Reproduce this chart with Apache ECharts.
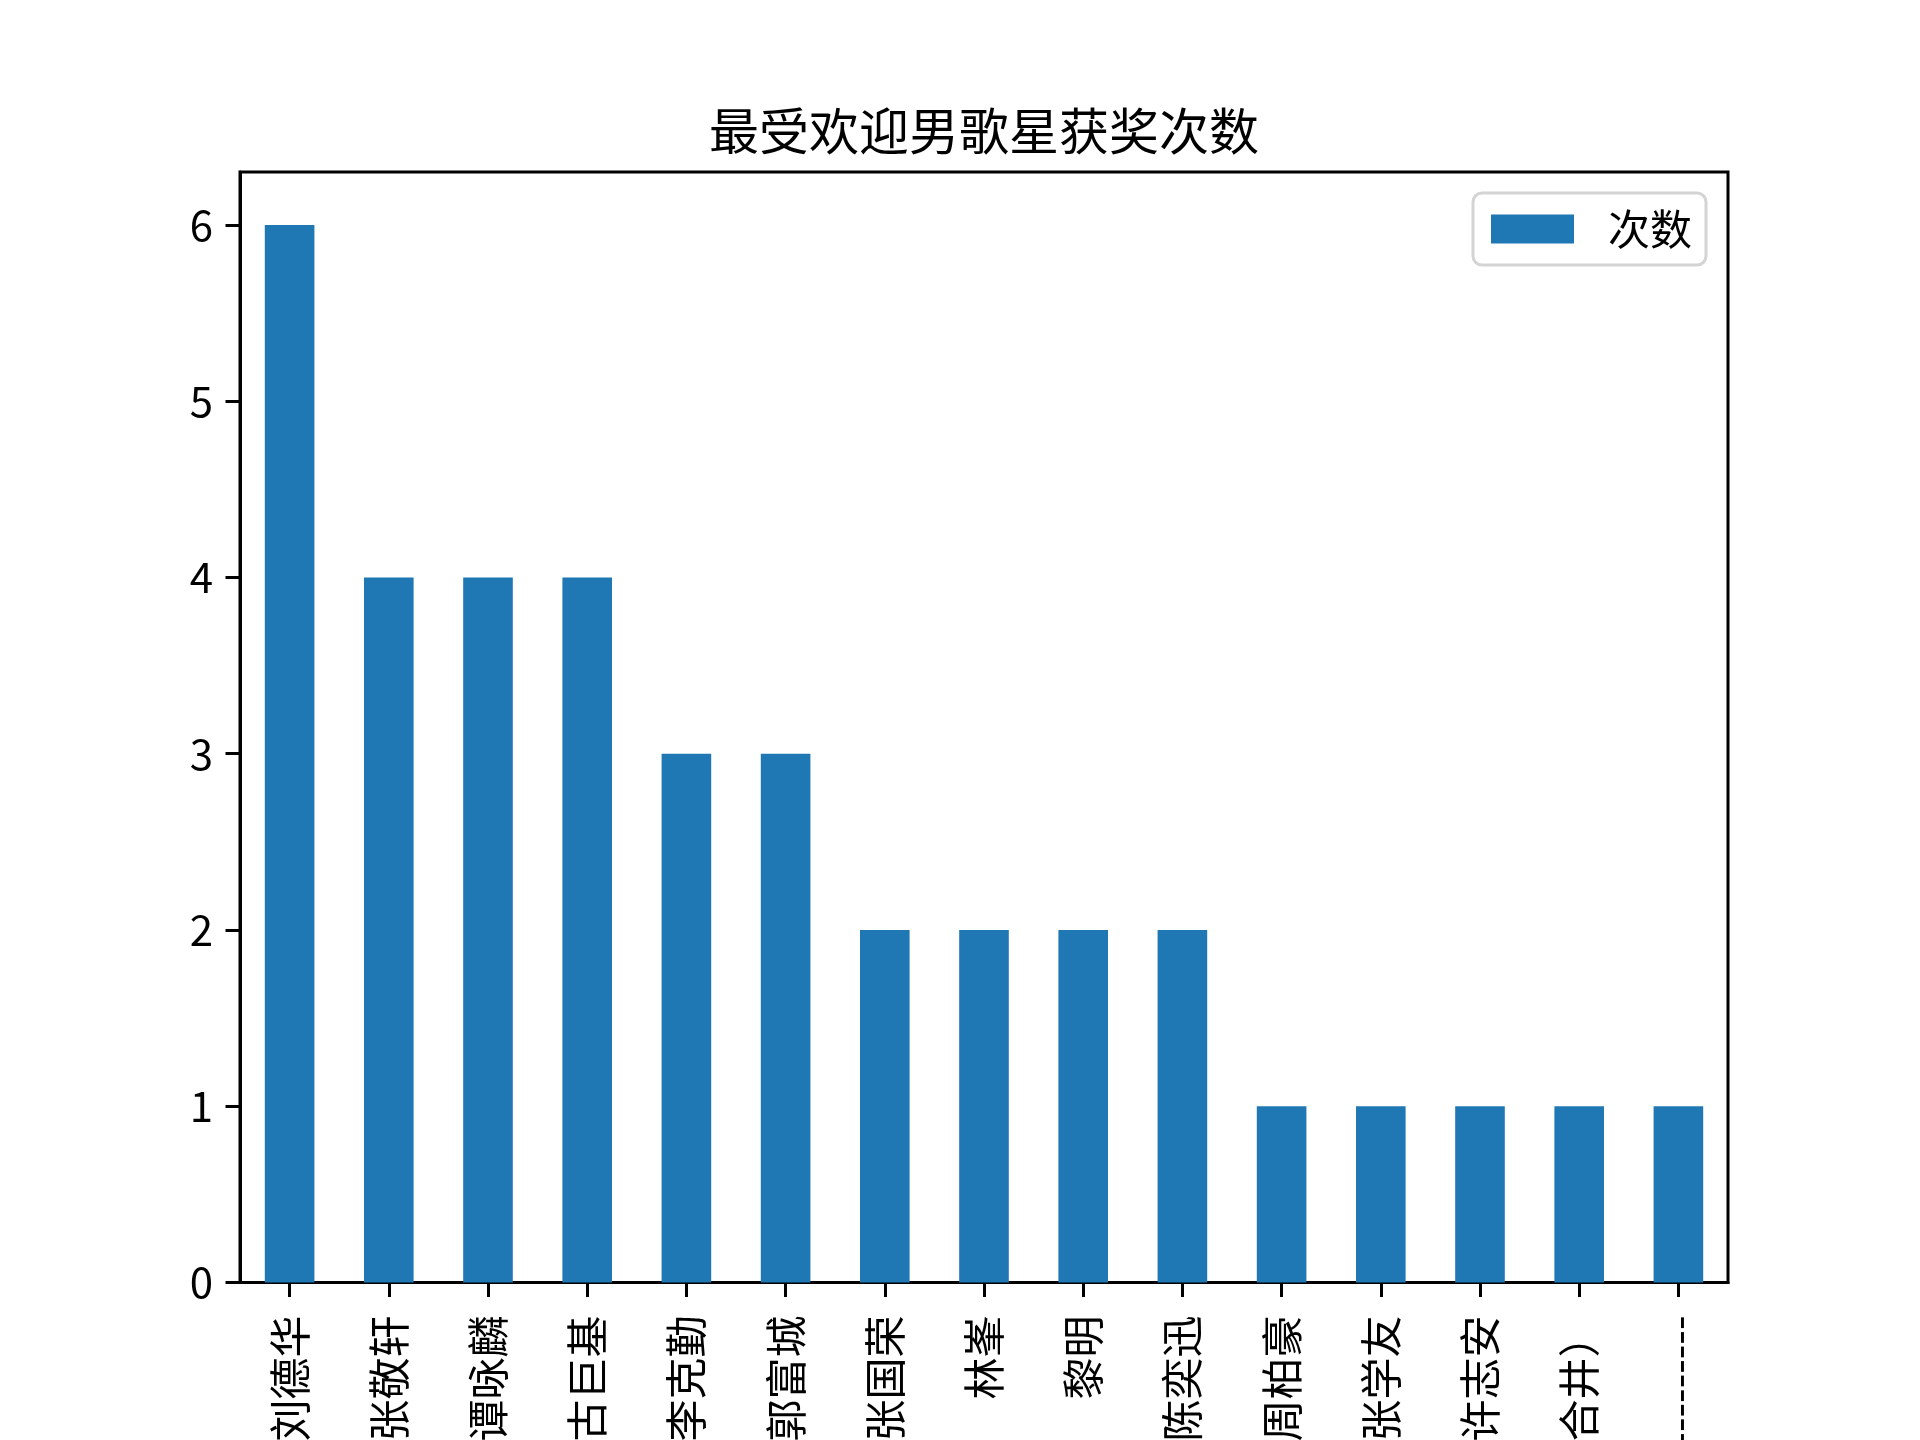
<!DOCTYPE html>
<html>
<head>
<meta charset="utf-8">
<script src="https://cdn.jsdelivr.net/npm/echarts@6/dist/echarts.min.js"></script>
<style>
html,body{margin:0;padding:0;background:#fff;}
#chart{width:1920px;height:1440px;}
</style>
</head>
<body>
<div id="chart"></div>
<script>
var titleText = '最受欢迎男歌星获奖次数';
var seriesName = '次数';
var categories = ['刘德华','张敬轩','谭咏麟','古巨基','李克勤','郭富城','张国荣','林峯','黎明','陈奕迅','周柏豪','张学友','许志安','合井）','--------------'];
var values = [6,4,4,4,3,3,2,2,2,2,1,1,1,1,1];
var yTicks = [0,1,2,3,4,5,6];

var FONT = '"Noto Sans CJK SC", "DejaVu Sans", sans-serif';
var chart = echarts.init(document.getElementById('chart'), null, {renderer:'canvas'});
chart.setOption({
  backgroundColor:'#ffffff',
  animation:false,
  title:{
    text:titleText, left:709, top:106, padding:0,
    textStyle:{fontFamily:FONT, fontSize:50, fontWeight:'normal', color:'#000'}
  },
  legend:{
    data:[seriesName], left:1473, top:193,
    padding:[15,14,15,18],
    itemWidth:83, itemHeight:29, icon:'rect',
    borderColor:'#d4d4d4', borderWidth:3, borderRadius:9,
    backgroundColor:'#ffffff',
    textStyle:{fontFamily:FONT, fontSize:42, color:'#000', padding:[0,0,0,29], lineHeight:42}
  },
  grid:{left:240, right:192, top:172, bottom:157.5, containLabel:false, outerBoundsMode:'none',
        show:true, borderColor:'#000', borderWidth:3, backgroundColor:'transparent'},
  xAxis:{
    type:'category', data:categories, boundaryGap:true,
    axisLine:{show:true, lineStyle:{color:'#000', width:3}},
    axisTick:{show:true, alignWithLabel:true, length:14.5, lineStyle:{color:'#000', width:3}},
    axisLabel:{rotate:90, interval:0, margin:33, fontFamily:FONT, fontSize:42, color:'#000'},
    splitLine:{show:false}
  },
  yAxis:{
    type:'value', min:0, max:6.3,
    axisLine:{show:true, lineStyle:{color:'#000', width:3}},
    axisTick:{show:true, length:14.5, lineStyle:{color:'#000', width:3}, customValues:yTicks},
    axisLabel:{margin:27, fontFamily:FONT, fontSize:42, color:'#000', customValues:yTicks},
    splitLine:{show:false}
  },
  series:[{
    name:seriesName, type:'bar', data:values, barWidth:'50%',
    itemStyle:{color:'#1f77b4'}
  }]
});
</script>
</body>
</html>
